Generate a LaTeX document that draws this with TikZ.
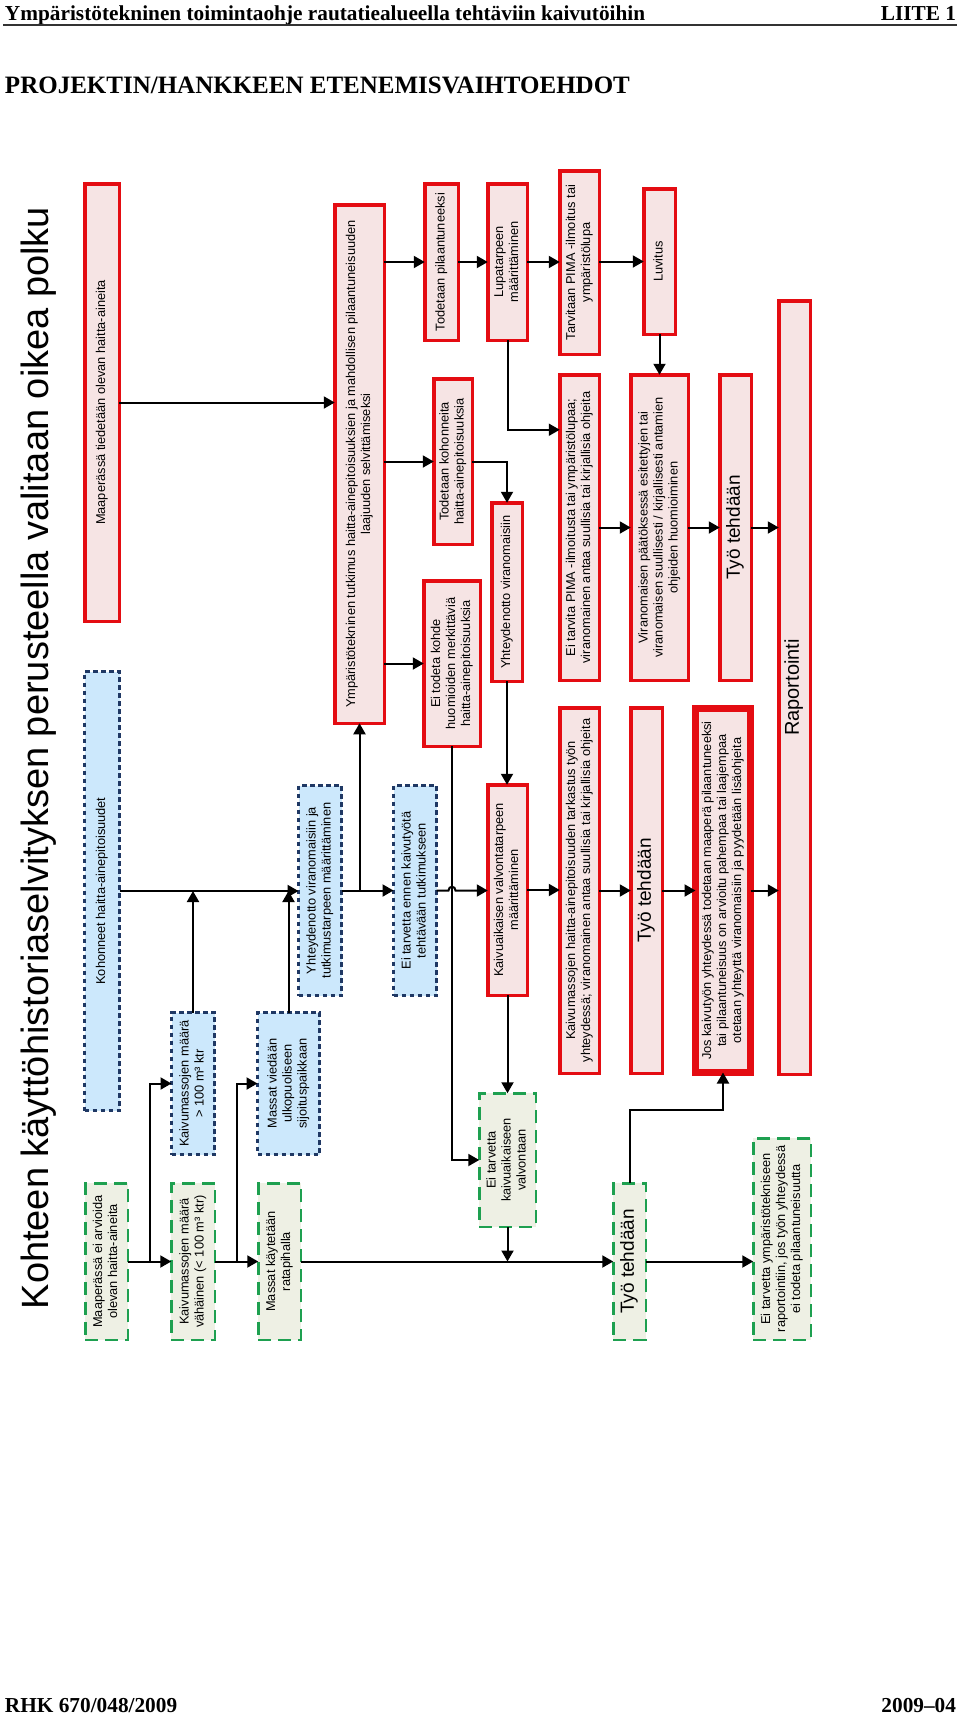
\documentclass[tikz,border=0pt]{standalone}
\usepackage{fontspec}
\usepackage{graphicx}
\setmainfont{Liberation Serif}
\newfontfamily\arial{Liberation Sans}
\usetikzlibrary{calc,arrows.meta}

\definecolor{boxred}{RGB}{228,12,18}
\definecolor{boxredfill}{RGB}{246,228,228}
\definecolor{boxblue}{RGB}{31,56,100}
\definecolor{boxbluefill}{RGB}{204,232,252}
\definecolor{boxgreen}{RGB}{30,160,80}
\definecolor{boxgreenfill}{RGB}{238,240,228}

% rotated, centred box text
\newcommand{\vtxt}[1]{\rotatebox{90}{\begin{tabular}{@{}c@{}}#1\end{tabular}}}

\begin{document}
\begin{tikzpicture}[x=1pt, y=-1pt,
  every node/.style={inner sep=0pt, outer sep=0pt},
  boxtext/.style={font=\arial\fontsize{12.8}{15}\selectfont},
  redbox/.style={boxtext, draw=boxred, fill=boxredfill, line width=3.5pt},
  bluebox/.style={boxtext, draw=boxblue, fill=boxbluefill, line width=3pt, dash pattern=on 4.5pt off 3.5pt},
  greenbox/.style={boxtext, draw=boxgreen, fill=boxgreenfill, line width=2.5pt, dash pattern=on 13pt off 7pt},
  bigtext/.style={font=\arial\fontsize{19}{22}\selectfont},
  arr/.style={-{Triangle[length=11pt,width=12pt]}, line width=2pt}]

\useasboundingbox (0,0) rectangle (960,1719);

% --------- Page header / footer ----------
\node[anchor=base west, font=\bfseries\fontsize{21.3}{24}\selectfont] (head) at (5,20)
  {Ympäristötekninen toimintaohje rautatiealueella tehtäviin kaivutöihin};
\node[anchor=base east, font=\bfseries\fontsize{21.3}{24}\selectfont] (liite) at (956,20) {LIITE 1};
\draw[line width=1.8pt, black!80] (3,25) -- (957,25);   % header rule

\node[anchor=base west, font=\bfseries\fontsize{25}{28}\selectfont] (proj) at (5,93)
  {PROJEKTIN/HANKKEEN ETENEMISVAIHTOEHDOT};

\node[anchor=base west, font=\bfseries\fontsize{21.3}{24}\selectfont] (rhk) at (5,1712) {RHK 670/048/2009};
\node[anchor=base east, font=\bfseries\fontsize{21.3}{24}\selectfont] (pvm) at (956,1712) {2009--04};

% --------- Rotated title ----------
\node[rotate=90, anchor=base, font=\arial\fontsize{38}{40}\selectfont] (title) at (48,758)
  {Kohteen käyttöhistoriaselvityksen perusteella valitaan oikea polku};

% --------- Red path (haitta-aineita tiedetään) ----------
\node[redbox, minimum width=34.5, minimum height=437.5] (maaTied) at (102,402.5)
  {\vtxt{Maaperässä tiedetään olevan haitta-aineita}};
\node[redbox, minimum width=49.5, minimum height=518.5] (ympTutk) at (359.5,464)
  {\vtxt{Ympäristötekninen tutkimus haitta-ainepitoisuuksien ja mahdollisen pilaantuneisuuden\\laajuuden selvittämiseksi}};
\node[redbox, minimum width=33.5, minimum height=156.5] (todPil) at (441.5,262)
  {\vtxt{Todetaan pilaantuneeksi}};
\node[redbox, minimum width=38.5, minimum height=165.5] (todKoh) at (453,461.5)
  {\vtxt{Todetaan kohonneita\\haitta-ainepitoisuuksia}};
\node[redbox, minimum width=56.5, minimum height=165.5] (eiTod) at (452,663.5)
  {\vtxt{Ei todeta kohde\\huomioiden merkittäviä\\haitta-ainepitoisuuksia}};
\node[redbox, minimum width=39.5, minimum height=156.5] (lupa) at (507.5,262)
  {\vtxt{Lupatarpeen\\määrittäminen}};
\node[redbox, minimum width=30.5, minimum height=178.5] (yhtVir) at (507,592)
  {\vtxt{Yhteydenotto viranomaisiin}};
\node[redbox, minimum width=39.5, minimum height=183.5] (tarvPima) at (579.5,262.5)
  {\vtxt{Tarvitaan PIMA -ilmoitus tai\\ympäristölupa}};
\node[redbox, minimum width=31.5, minimum height=145.5] (luvitus) at (659.5,261.5)
  {\vtxt{Luvitus}};
\node[redbox, minimum width=39.5, minimum height=305.5] (eiPima) at (579.5,527.5)
  {\vtxt{Ei tarvita PIMA -ilmoitusta tai ympäristölupaa;\\viranomainen antaa suullisia tai kirjallisia ohjeita}};
\node[redbox, minimum width=57.5, minimum height=305.5] (virPaat) at (659.5,527.5)
  {\vtxt{Viranomaisen päätöksessä esitettyjen tai\\viranomaisen suullisesti / kirjallisesti antamien\\ohjeiden huomioiminen}};
\node[redbox, bigtext, minimum width=31.5, minimum height=305.5] (tyoA) at (735.5,527.5)
  {\vtxt{Työ tehdään}};
\node[redbox, font=\arial\fontsize{20}{22}\selectfont, minimum width=31.5, minimum height=773.5] (raport) at (794.5,687.5)
  {\vtxt{Raportointi}};
\node[redbox, minimum width=39.5, minimum height=210.5] (kaivVal) at (507.5,890)
  {\vtxt{Kaivuaikaisen valvontatarpeen\\määrittäminen}};
\node[redbox, minimum width=39.5, minimum height=365.5] (kaivTark) at (579.5,890.5)
  {\vtxt{Kaivumassojen haitta-ainepitoisuuden tarkastus työn\\yhteydessä; viranomainen antaa suullisia tai kirjallisia ohjeita}};
\node[redbox, bigtext, minimum width=31.5, minimum height=365.5] (tyoB) at (646.5,890.5)
  {\vtxt{Työ tehdään}};
\node[redbox, line width=7pt, minimum width=55, minimum height=364] (josKaiv) at (723,890.5)
  {\vtxt{Jos kaivutyön yhteydessä todetaan maaperä pilaantuneeksi\\tai pilaantuneisuus on arvioitu pahempaa tai laajempaa\\otetaan yhteyttä viranomaisiin ja pyydetään lisäohjeita}};

% --------- Blue path (kohonneet pitoisuudet) ----------
\node[bluebox, minimum width=35, minimum height=439] (kohon) at (102,891)
  {\vtxt{Kohonneet haitta-ainepitoisuudet}};
\node[bluebox, minimum width=43, minimum height=210] (yhtTutk) at (320,890.5)
  {\vtxt{Yhteydenotto viranomaisiin ja\\tutkimustarpeen määrittäminen}};
\node[bluebox, minimum width=43, minimum height=210] (eiTarvEnnen) at (415,890.5)
  {\vtxt{Ei tarvetta ennen kaivutyötä\\tehtävään tutkimukseen}};
\node[bluebox, minimum width=43, minimum height=142] (yli100) at (193,1083.5)
  {\vtxt{Kaivumassojen määrä\\> 100 m³ ktr}};
\node[bluebox, minimum width=62, minimum height=142] (massUlko) at (288.5,1083.5)
  {\vtxt{Massat viedään\\ulkopuoliseen\\sijoituspaikkaan}};

% --------- Green path (ei haitta-aineita) ----------
\node[greenbox, minimum width=42.5, minimum height=156.5] (eiArv) at (106.5,1261.5)
  {\vtxt{Maaperässä ei arvioida\\olevan haitta-aineita}};
\node[greenbox, minimum width=43.5, minimum height=156.5] (alle100) at (193,1261.5)
  {\vtxt{Kaivumassojen määrä\\vähäinen (< 100 m³ ktr)}};
\node[greenbox, minimum width=42.5, minimum height=156.5] (massRata) at (279.5,1261.5)
  {\vtxt{Massat käytetään\\ratapihalla}};
\node[greenbox, minimum width=56.5, minimum height=133.5] (eiValv) at (507.5,1160)
  {\vtxt{Ei tarvetta\\kaivuaikaiseen\\valvontaan}};
\node[greenbox, bigtext, minimum width=32.5, minimum height=156.5] (tyoC) at (629.5,1261.5)
  {\vtxt{Työ tehdään}};
\node[greenbox, minimum width=57.5, minimum height=201.5] (eiRap) at (782,1239)
  {\vtxt{Ei tarvetta ympäristötekniseen\\raportointiin, jos työn yhteydessä\\ei todeta pilaantuneisuutta}};

% --------- Connectors: red path ----------
\draw[arr] (maaTied.east) -- (maaTied.east -| ympTutk.west);
\draw[arr] (todPil.west -| ympTutk.east) -- (todPil.west);
\draw[arr] (todKoh.west -| ympTutk.east) -- (todKoh.west);
\draw[arr] (eiTod.west -| ympTutk.east) -- (eiTod.west);
\draw[arr] (todPil.east) -- (lupa.west);
\draw[arr] (lupa.east) -- (lupa.east -| tarvPima.west);
\draw[arr] (luvitus.west -| tarvPima.east) -- (luvitus.west);
\draw[arr] (luvitus.south) -- (luvitus.south |- virPaat.north);
\draw[arr] (lupa.south) |- ($(eiPima.north west)!0.18!(eiPima.south west)$);
\draw[arr] (todKoh.east) -| (yhtVir.north);
\draw[arr] (eiPima.east) -- (virPaat.west);
\draw[arr] (virPaat.east) -- (tyoA.west);
\draw[arr] (tyoA.east) -- (tyoA.east -| raport.west);
\draw[arr] (yhtVir.south) -- (yhtVir.south |- kaivVal.north);
\draw[arr] (kaivVal.east) -- (kaivVal.east -| kaivTark.west);
\draw[arr] (kaivTark.east) -- (tyoB.west);
\draw[arr] (tyoB.east) -- (josKaiv.west);
\draw[arr] (josKaiv.east) -- (josKaiv.east -| raport.west);

% --------- Connectors: blue path ----------
\draw[arr] (kohon.east) -- (kohon.east -| yhtTutk.west);
\draw[arr] (yli100.north) -- (yli100.north |- kohon.east);
\draw[arr] (massUlko.north) -- (massUlko.north |- kohon.east);
\draw[arr] (yhtTutk.east) -- (eiTarvEnnen.west);
\draw[arr] (yhtTutk.east -| ympTutk.south) -- (ympTutk.south);
% hop over the line coming down from eiTod
\draw[arr] (eiTarvEnnen.east) -- ($(eiTarvEnnen.east -| eiTod.south)+(-3.5,0)$)
  .. controls +(0,-5) and +(0,-5) .. ($(eiTarvEnnen.east -| eiTod.south)+(3.5,0)$)
  -- (eiTarvEnnen.east -| kaivVal.west);
\draw[arr] (eiTod.south) |- (eiValv.west);
\draw[arr] (kaivVal.south) -- (eiValv.north);

% --------- Connectors: green path ----------
\draw[arr] (eiArv.east) -- (alle100.west);
\draw[arr] ($(eiArv.east)!0.5!(alle100.west)$) |- (yli100.west);
\draw[arr] (alle100.east) -- (massRata.west);
\draw[arr] ($(alle100.east)!0.5!(massRata.west)$) |- (massUlko.west);
\draw[arr] (massRata.east) -- (tyoC.west);
\draw[arr] (eiValv.south) -- (eiValv.south |- tyoC.west);
\draw[arr] (tyoC.east) -- (tyoC.east -| eiRap.west);
\draw[arr] (tyoC.north) |- ($(josKaiv.south)+(0,37)$) -- (josKaiv.south);

\end{tikzpicture}
\end{document}
